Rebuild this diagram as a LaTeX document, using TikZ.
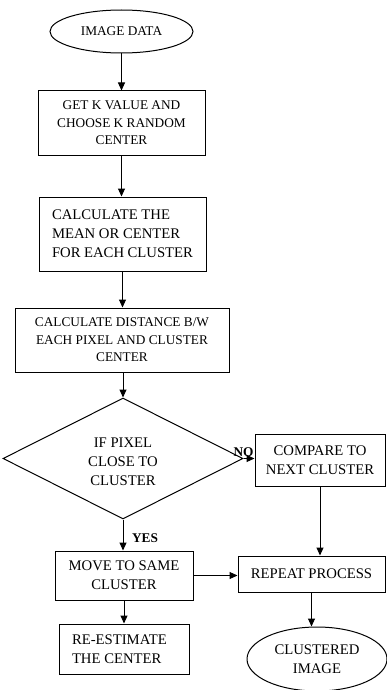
\documentclass[tikz,border=0pt]{standalone}
\usepackage{fontspec}
\setmainfont{Liberation Serif}
\usetikzlibrary{shapes.geometric,arrows.meta}
\begin{document}
\begin{tikzpicture}[x=1pt,y=-1pt,
  box/.style={draw, line width=1pt, align=center, inner sep=0pt},
  sm/.style={font=\fontsize{13.3}{17.5}\selectfont},
  lg/.style={font=\fontsize{14.7}{19}\selectfont},
  arr/.style={line width=1pt, -{Triangle[length=8pt,width=7pt]}},
  lbl/.style={font=\bfseries\fontsize{13.3}{16}\selectfont, inner sep=0pt}]
\useasboundingbox (0,0) rectangle (386,690);
\node[box, ellipse, sm, minimum width=143pt, minimum height=43pt] (start) at (121.5,31.5) {IMAGE DATA};
\node[box, sm, minimum width=167pt, minimum height=64pt] (b1) at (121.5,123) {GET K VALUE AND\\CHOOSE K RANDOM\\CENTER};
\node[box, lg, minimum width=167pt, minimum height=74pt, text width=141pt, align=flush left, inner xsep=13pt] (b2) at (122.5,234) {CALCULATE THE\\MEAN OR CENTER\\FOR EACH CLUSTER};
\node[box, sm, minimum width=214pt, minimum height=64pt] (b3) at (122,340) {CALCULATE DISTANCE B/W\\EACH PIXEL AND CLUSTER\\CENTER};
\node[box, diamond, lg, minimum width=240pt, minimum height=121pt] (dec) at (123,458.5) {};
\node[lg, align=center, inner sep=0pt] (dectext) at (123,462) {IF PIXEL\\CLOSE TO\\CLUSTER};
\node[box, lg, minimum width=130pt, minimum height=52pt] (cmp) at (320,460) {COMPARE TO\\NEXT CLUSTER};
\node[box, lg, minimum width=138pt, minimum height=49pt] (move) at (124,575.5) {MOVE TO SAME\\CLUSTER};
\node[box, lg, minimum width=147pt, minimum height=36pt] (rep) at (311.5,574) {REPEAT PROCESS};
\node[box, lg, minimum width=130pt, minimum height=50pt, text width=104pt, align=flush left, inner xsep=13pt] (est) at (124,649) {RE-ESTIMATE\\THE CENTER};
\node[box, ellipse, lg, minimum width=140pt, minimum height=64pt] (end) at (317,659) {CLUSTERED\\IMAGE};
\draw[arr] (start.south) -- (b1.north);
\draw[arr] (b1.south) -- (b1.south |- b2.north);
\draw[arr] (b2.south) -- (b2.south |- b3.north);
\draw[arr] (dec.north |- b3.south) -- (dec.north);
\draw[arr] (dec.east) -- (dec.east -| cmp.west);
\draw[arr] (dec.south) -- (dec.south |- move.north);
\draw[arr] (move.east) -- (move.east -| rep.west);
\draw[arr] (cmp.south) -- (cmp.south |- rep.north);
\draw[arr] (rep.south) -- (rep.south |- end.north);
\draw[arr] (move.south) -- (move.south |- est.north);
\node[lbl] (no) at (243.5,452) {NO};
\node[lbl] (yes) at (145,538) {YES};
\end{tikzpicture}
\end{document}
